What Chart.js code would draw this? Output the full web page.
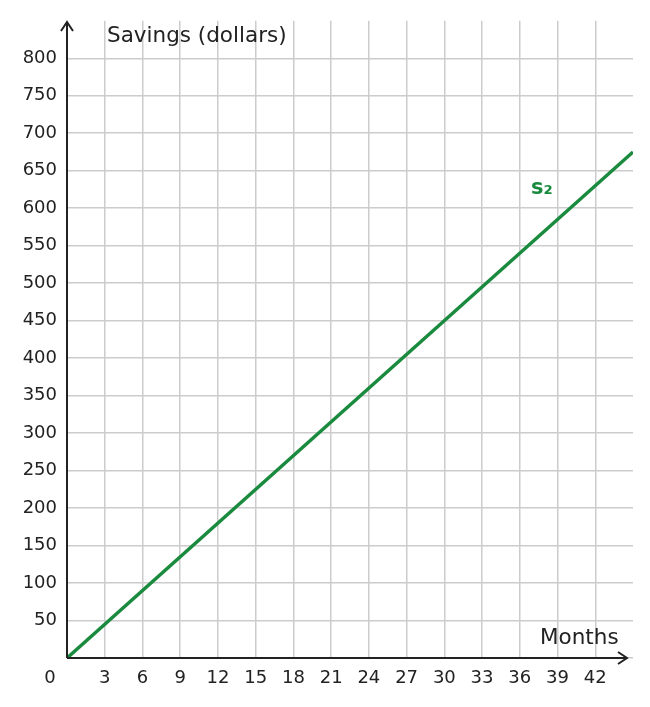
<!DOCTYPE html>
<html>
<head>
<meta charset="utf-8">
<script src="https://cdn.jsdelivr.net/npm/chart.js@4"></script>
<style>
  html, body { margin: 0; padding: 0; background: #fff; }
  #wrap { width: 650px; height: 707px; }
</style>
</head>
<body>
<div id="wrap"><canvas id="cvs" width="650" height="707"></canvas></div>
<script>
// data
const months = [0, 45];
const savings = [0, 675];
const seriesLabel = 's₂';
const xTitle = 'Months';
const yTitle = 'Savings (dollars)';

const FONT = 'DejaVu Sans';
const INK = '#222';
const GREEN = '#1a8a3e';

// draws axis lines with arrows, the shared 0, titles and series label
const axesPlugin = {
  id: 'axesPlugin',
  afterDraw(chart) {
    const ctx = chart.ctx;
    const xs = chart.scales.x, ys = chart.scales.y;
    const x0 = xs.getPixelForValue(0), y0 = ys.getPixelForValue(0);
    ctx.save();
    ctx.strokeStyle = INK;
    ctx.lineWidth = 2;
    ctx.beginPath();
    ctx.moveTo(x0, y0); ctx.lineTo(626, y0);
    ctx.moveTo(x0, y0); ctx.lineTo(x0, 23);
    ctx.stroke();
    ctx.beginPath();
    ctx.moveTo(618, y0 - 6); ctx.lineTo(627, y0); ctx.lineTo(618, y0 + 6);
    ctx.moveTo(x0 - 6, 31); ctx.lineTo(x0, 22); ctx.lineTo(x0 + 6, 31);
    ctx.stroke();

    ctx.fillStyle = INK;
    ctx.font = '18px ' + FONT;
    ctx.textBaseline = 'middle';
    ctx.textAlign = 'center';
    ctx.fillText('0', 50, 678);
    ctx.textAlign = 'left';
    ctx.font = '21.5px ' + FONT;
    ctx.fillText(yTitle, 107, 36);
    ctx.fillText(xTitle, 540, 638);

    ctx.fillStyle = GREEN;
    ctx.font = 'bold 21px ' + FONT;
    ctx.fillText(seriesLabel, 531, 189);
    ctx.restore();
  }
};

new Chart(document.getElementById('cvs').getContext('2d'), {
  type: 'scatter',
  data: {
    datasets: [{
      data: months.map((m, i) => ({ x: m, y: savings[i] })),
      showLine: true,
      borderColor: GREEN,
      borderWidth: 3.5,
      pointRadius: 0
    }]
  },
  options: {
    responsive: false,
    animation: false,
    layout: { padding: { top: 18, right: 17, left: 0, bottom: 0 } },
    plugins: { legend: { display: false }, tooltip: { enabled: false } },
    scales: {
      x: {
        type: 'linear', min: 0, max: 45,
        afterFit: (s) => { s.height = 49; },
        border: { display: false },
        grid: {
          color: (c) => c.tick && c.tick.value > 42 ? 'rgba(0,0,0,0)' : '#cccccc',
          lineWidth: 1.5, drawTicks: false
        },
        ticks: {
          stepSize: 3, padding: 10, color: INK, font: { family: FONT, size: 18 },
          callback: (v) => (v === 0 || v > 42) ? '' : v
        }
      },
      y: {
        type: 'linear', min: 0, max: 850,
        afterFit: (s) => { s.width = 67; },
        border: { display: false },
        grid: {
          color: (c) => c.tick && c.tick.value > 800 ? 'rgba(0,0,0,0)' : '#cccccc',
          lineWidth: 1.5, drawTicks: false
        },
        ticks: {
          stepSize: 50, padding: 10, color: INK, font: { family: FONT, size: 18 },
          callback: (v) => (v === 0 || v > 800) ? '' : v
        }
      }
    }
  },
  plugins: [axesPlugin]
});
</script>
</body>
</html>
